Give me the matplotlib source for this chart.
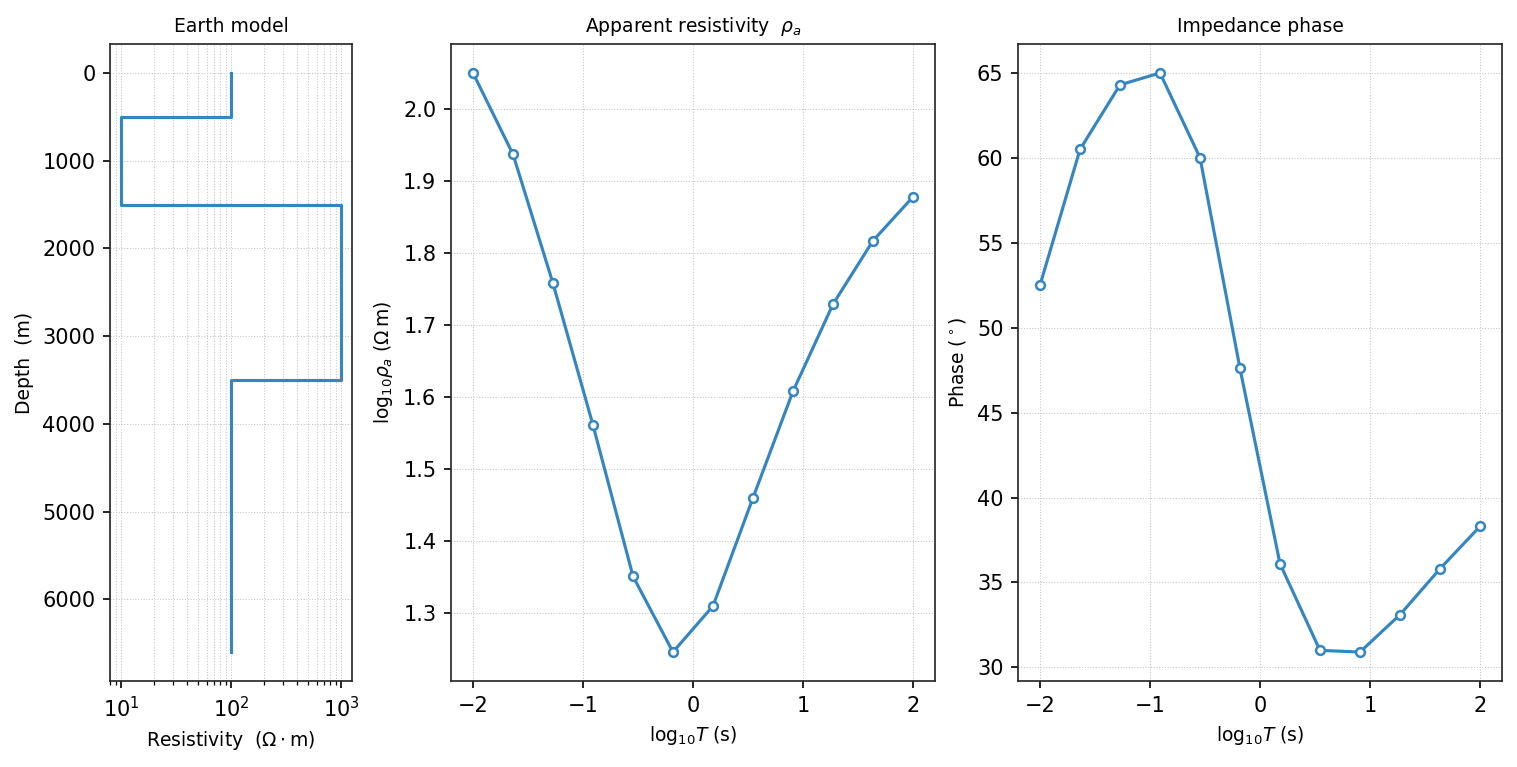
import numpy as np
import matplotlib
matplotlib.use('Agg')
import matplotlib.pyplot as plt

# ── data ──
layer_rho = [100, 10, 1000, 100]          # Ohm.m
layer_top = [0, 500, 1500, 3500]          # m
model_bottom = 6600

log_T = [-2.0, -1.636, -1.273, -0.909, -0.545, -0.182,
         0.182, 0.545, 0.909, 1.273, 1.636, 2.0]
log_rho_a = [2.050, 1.937, 1.758, 1.561, 1.351, 1.246,
             1.310, 1.460, 1.608, 1.729, 1.817, 1.878]
phase_deg = [52.5, 60.5, 64.3, 65.0, 60.0, 47.6,
             36.1, 31.0, 30.9, 33.1, 35.8, 38.3]

LINE = '#3586c0'
GRID = dict(ls=':', lw=0.5, color='#c4c4c4')
W, H = 1517, 767
DPI = 150

fig = plt.figure(figsize=(W / DPI, H / DPI), dpi=DPI)


def box(x0, x1, y0=44, y1=681):
    return [x0 / W, (H - y1) / H, (x1 - x0) / W, (y1 - y0) / H]


ax1 = fig.add_axes(box(110, 352))
ax2 = fig.add_axes(box(451, 935))
ax3 = fig.add_axes(box(1018, 1502))

# step profile of the earth model
xs, ys = [], []
for i, r in enumerate(layer_rho):
    top = layer_top[i]
    bot = layer_top[i + 1] if i + 1 < len(layer_top) else model_bottom
    xs += [r, r]
    ys += [top, bot]
ax1.plot(xs, ys, color=LINE, lw=1.5)
ax1.set_xscale('log')
ax1.invert_yaxis()
ax1.set_title('Earth model', fontsize=9)
ax1.set_xlabel(r'Resistivity  $(\Omega \cdot \mathrm{m})$', fontsize=9)
ax1.set_ylabel('Depth  (m)', fontsize=9)
ax1.grid(True, which='major', **GRID)
ax1.grid(True, which='minor', axis='x', **GRID)

mk = dict(color=LINE, lw=1.5, marker='o', ms=4.2, mfc='white', mec=LINE, mew=1.2)

ax2.plot(log_T, log_rho_a, **mk)
ax2.set_title(r'Apparent resistivity  $\rho_a$', fontsize=9)
ax2.set_xlabel(r'$\mathrm{log}_{10}T$ (s)', fontsize=9)
ax2.set_ylabel(r'$\mathrm{log}_{10}\rho_a$ $(\Omega\, \mathrm{m})$', fontsize=9)
ax2.grid(True, **GRID)

ax3.plot(log_T, phase_deg, **mk)
ax3.set_title('Impedance phase', fontsize=9)
ax3.set_xlabel(r'$\mathrm{log}_{10}T$ (s)', fontsize=9)
ax3.set_ylabel(r'Phase $(^\circ)$', fontsize=9)
ax3.grid(True, **GRID)

for ax in (ax1, ax2, ax3):
    ax.tick_params(labelsize=10)
    for s in ax.spines.values():
        s.set_color('#222222')

fig.savefig('out.png', dpi=DPI)
